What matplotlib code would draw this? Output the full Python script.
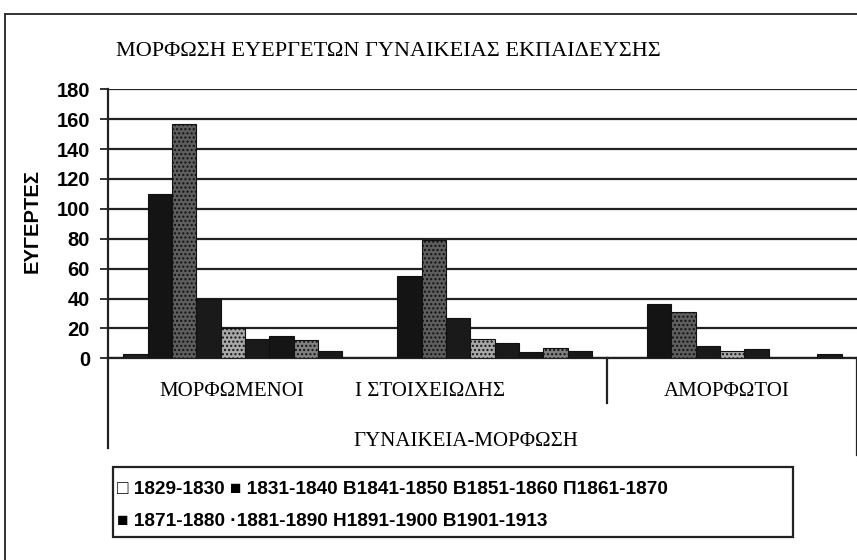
import matplotlib
matplotlib.use("Agg")
import matplotlib.pyplot as plt
import numpy as np
from matplotlib.patches import Rectangle
from matplotlib.lines import Line2D

# Categories and values (number of benefactors per period)
categories = ["ΜΟΡΦΩΜΕΝΟΙ", "Ι ΣΤΟΙΧΕΙΩΔΗΣ", "ΑΜΟΡΦΩΤΟΙ"]
periods = ["1829-1830", "1831-1840", "1841-1850", "1851-1860", "1861-1870",
           "1871-1880", "1881-1890", "1891-1900", "1901-1913"]
v_1829_1830 = [3, 0, 0]
v_1831_1840 = [110, 55, 36]
v_1841_1850 = [157, 79, 31]
v_1851_1860 = [40, 27, 8]
v_1861_1870 = [20, 13, 5]
v_1871_1880 = [13, 10, 6]
v_1881_1890 = [15, 4, 0]
v_1891_1900 = [12, 7, 0]
v_1901_1913 = [5, 5, 3]
series = [v_1829_1830, v_1831_1840, v_1841_1850, v_1851_1860, v_1861_1870,
          v_1871_1880, v_1881_1890, v_1891_1900, v_1901_1913]
y_ticks = [0, 20, 40, 60, 80, 100, 120, 140, 160, 180]

title = "ΜΟΡΦΩΣΗ ΕΥΕΡΓΕΤΩΝ ΓΥΝΑΙΚΕΙΑΣ ΕΚΠΑΙΔΕΥΣΗΣ"
y_label = "ΕΥΓΕΡΤΕΣ"
x_label = "ΓΥΝΑΙΚΕΙΑ-ΜΟΡΦΩΣΗ"
legend_row1 = "□ 1829-1830 ■ 1831-1840 B1841-1850 B1851-1860 П1861-1870"
legend_row2 = "■ 1871-1880 ·1881-1890 H1891-1900 B1901-1913"

# bar styles: (facecolor, hatch)
styles = [
    ("#202020", None),
    ("#141414", None),
    ("#5e5e5e", "...."),
    ("#1a1a1a", None),
    ("#a8a8a8", "...."),
    ("#1a1a1a", None),
    ("#151515", None),
    ("#808080", "...."),
    ("#1a1a1a", None),
]

W, H = 857, 560
fig = plt.figure(figsize=(W / 100, H / 100), dpi=100)
fig.patch.set_facecolor("white")

def fx(px):
    return px / W

def fy(py):
    return 1 - py / H

ax_left, ax_right = 108, 857
ax_top, ax_bottom = 89.3, 358.3
ax = fig.add_axes([fx(ax_left), fy(ax_bottom), fx(ax_right - ax_left),
                   (ax_bottom - ax_top) / H])

n = len(series)
bar_w = 0.0975
x0 = np.arange(len(categories)) + (1 - n * bar_w) / 2
plt.rcParams["hatch.linewidth"] = 1.0
for i, (vals, (fc, hatch)) in enumerate(zip(series, styles)):
    ax.bar(x0 + i * bar_w, vals, width=bar_w, align="edge", color=fc,
           edgecolor="#111111", linewidth=0.8, hatch=hatch, zorder=3)

ax.set_xlim(0, 3)
ax.set_ylim(0, 180)
ax.set_yticks(y_ticks)
ax.set_yticklabels([str(t) for t in y_ticks], fontfamily="Liberation Sans",
                   fontweight="bold", fontsize=14.5)
ax.tick_params(axis="y", direction="out", length=6, width=1.3, pad=7,
               color="#222222")
ax.set_xticks([])
ax.grid(axis="y", color="#222222", linewidth=1.6, zorder=0)
for s in ["top", "right"]:
    ax.spines[s].set_visible(False)
ax.spines["left"].set_linewidth(1.6)
ax.spines["bottom"].set_linewidth(1.6)
ax.spines["left"].set_color("#222222")
ax.spines["bottom"].set_color("#222222")

# category separators below the axis
xt = ax.get_xaxis_transform()
ax.add_line(Line2D([0, 0], [0, -(448 - ax_bottom) / (ax_bottom - ax_top)],
                   transform=xt, color="#222222", lw=1.6, clip_on=False))
ax.add_line(Line2D([2, 2], [0, -(403 - ax_bottom) / (ax_bottom - ax_top)],
                   transform=xt, color="#222222", lw=1.6, clip_on=False))
ax.add_line(Line2D([3, 3], [0, -(455 - ax_bottom) / (ax_bottom - ax_top)],
                   transform=xt, color="#222222", lw=1.6, clip_on=False))

serif = ["Liberation Serif", "DejaVu Serif"]
sans = ["Liberation Sans", "DejaVu Sans"]

# category labels
fig.text(fx(232), fy(392), categories[0], ha="center", va="center",
         fontfamily=serif, fontsize=15)
fig.text(fx(355), fy(392), categories[1], ha="left", va="center",
         fontfamily=serif, fontsize=15)
fig.text(fx(727), fy(392), categories[2], ha="center", va="center",
         fontfamily=serif, fontsize=15)
fig.text(fx(466), fy(442), x_label, ha="center", va="center",
         fontfamily=serif, fontsize=15)

# title and axis label
fig.text(fx(116), fy(51), title, ha="left", va="center",
         fontfamily=serif, fontsize=16)
fig.text(fx(32), fy(221), y_label, ha="center", va="center", rotation=90,
         fontfamily=sans, fontweight="bold", fontsize=14.5)

# legend box
fig.add_artist(Rectangle((fx(113), fy(537)), fx(793 - 113), (537 - 467) / H,
                         transform=fig.transFigure, facecolor="white",
                         edgecolor="#222222", linewidth=1.6))
fig.text(fx(117), fy(489), legend_row1, ha="left", va="center",
         fontfamily=sans, fontweight="bold", fontsize=13.7)
fig.text(fx(117), fy(521), legend_row2, ha="left", va="center",
         fontfamily=sans, fontweight="bold", fontsize=13.7)

# outer chart frame (top and left edges)
fig.add_artist(Line2D([fx(5), fx(857)], [fy(14), fy(14)],
                      transform=fig.transFigure, color="#333333", lw=1.4))
fig.add_artist(Line2D([fx(5), fx(5)], [fy(14), fy(560)],
                      transform=fig.transFigure, color="#333333", lw=1.4))

fig.savefig("out.png", dpi=100, facecolor="white")
